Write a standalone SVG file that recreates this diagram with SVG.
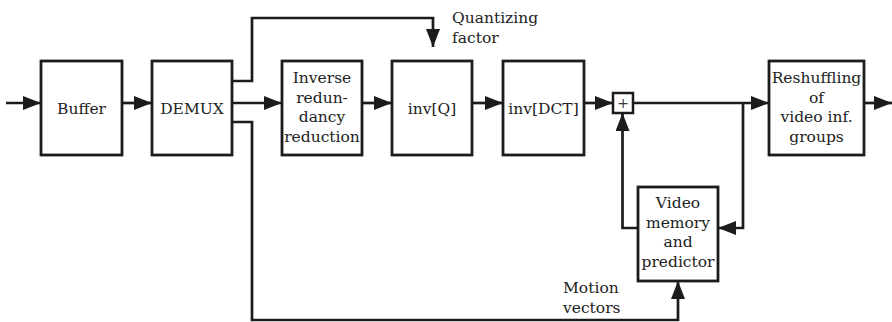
<svg xmlns="http://www.w3.org/2000/svg" width="892" height="322" viewBox="0 0 892 322">
  <style>
    .box { fill: #ffffff; stroke: #1c1c1c; stroke-width: 2.8; }
    .wire { fill: none; stroke: #1c1c1c; stroke-width: 2.7; }
    .lbl { font-family: "DejaVu Serif", "Liberation Serif", serif; font-size: 15.5px; fill: #222222; }
    .mid { text-anchor: middle; }
  </style>
  <defs>
    <marker id="head" markerUnits="userSpaceOnUse" markerWidth="18" markerHeight="14" refX="18" refY="7" orient="auto">
      <path d="M0,0 L18,7 L0,14 z" fill="#1c1c1c"/>
    </marker>
  </defs>

  <!-- signal paths -->
  <g id="connectors">
    <path class="wire" marker-end="url(#head)" d="M6,103 H41"/>
    <path class="wire" marker-end="url(#head)" d="M122,103 H152"/>
    <path class="wire" marker-end="url(#head)" d="M232,103 H282"/>
    <path class="wire" marker-end="url(#head)" d="M362,103 H392"/>
    <path class="wire" marker-end="url(#head)" d="M472,103 H503"/>
    <path class="wire" marker-end="url(#head)" d="M584,103 H613"/>
    <path class="wire" marker-end="url(#head)" d="M633,103 H769"/>
    <path class="wire" marker-end="url(#head)" d="M864,103 H892"/>
    <!-- quantizing factor to inv[Q] -->
    <path class="wire" marker-end="url(#head)" d="M232,81 H252 V18 H433 V47"/>
    <!-- motion vectors to predictor -->
    <path class="wire" marker-end="url(#head)" d="M232,122 H252 V320 H678 V281"/>
    <!-- reconstructed picture into memory -->
    <path class="wire" marker-end="url(#head)" d="M743,103 V228 H718"/>
    <!-- prediction back to adder -->
    <path class="wire" marker-end="url(#head)" d="M638,228 H622.5 V113"/>
  </g>

  <g id="buffer">
    <rect class="box" x="41" y="61" width="81" height="94"/>
    <text class="lbl mid" x="81.5" y="113.5">Buffer</text>
  </g>

  <g id="demux">
    <rect class="box" x="152" y="61" width="80" height="94"/>
    <text class="lbl mid" x="192" y="113.5">DEMUX</text>
  </g>

  <g id="inverse-redundancy">
    <rect class="box" x="282" y="61" width="80" height="94"/>
    <text class="lbl mid" x="322" y="83">Inverse</text>
    <text class="lbl mid" x="322" y="102.5">redun-</text>
    <text class="lbl mid" x="322" y="122">dancy</text>
    <text class="lbl mid" x="322" y="141.5">reduction</text>
  </g>

  <g id="inv-q">
    <rect class="box" x="392" y="61" width="80" height="94"/>
    <text class="lbl mid" x="432" y="113.5">inv[Q]</text>
  </g>

  <g id="inv-dct">
    <rect class="box" x="503" y="61" width="81" height="94"/>
    <text class="lbl mid" x="543.5" y="113.5">inv[DCT]</text>
  </g>

  <g id="adder">
    <rect class="box" x="613" y="93" width="20" height="20" style="stroke-width:2.5"/>
    <text x="623" y="108" text-anchor="middle" style="font-family:'DejaVu Sans','Liberation Sans',sans-serif;font-size:14px;fill:#3a3a3a">+</text>
  </g>

  <g id="reshuffling">
    <rect class="box" x="769" y="61" width="95" height="94"/>
    <text class="lbl mid" x="816.5" y="83">Reshuffling</text>
    <text class="lbl mid" x="816.5" y="102.5">of</text>
    <text class="lbl mid" x="816.5" y="122">video inf.</text>
    <text class="lbl mid" x="816.5" y="141.5">groups</text>
  </g>

  <g id="video-memory">
    <rect class="box" x="638" y="187" width="80" height="94"/>
    <text class="lbl mid" x="678" y="208">Video</text>
    <text class="lbl mid" x="678" y="227.5">memory</text>
    <text class="lbl mid" x="678" y="247">and</text>
    <text class="lbl mid" x="678" y="266.5">predictor</text>
  </g>

  <g id="labels">
    <text class="lbl" x="452" y="23">Quantizing</text>
    <text class="lbl" x="452" y="43">factor</text>
    <text class="lbl" x="563" y="293">Motion</text>
    <text class="lbl" x="563" y="313">vectors</text>
  </g>
</svg>
